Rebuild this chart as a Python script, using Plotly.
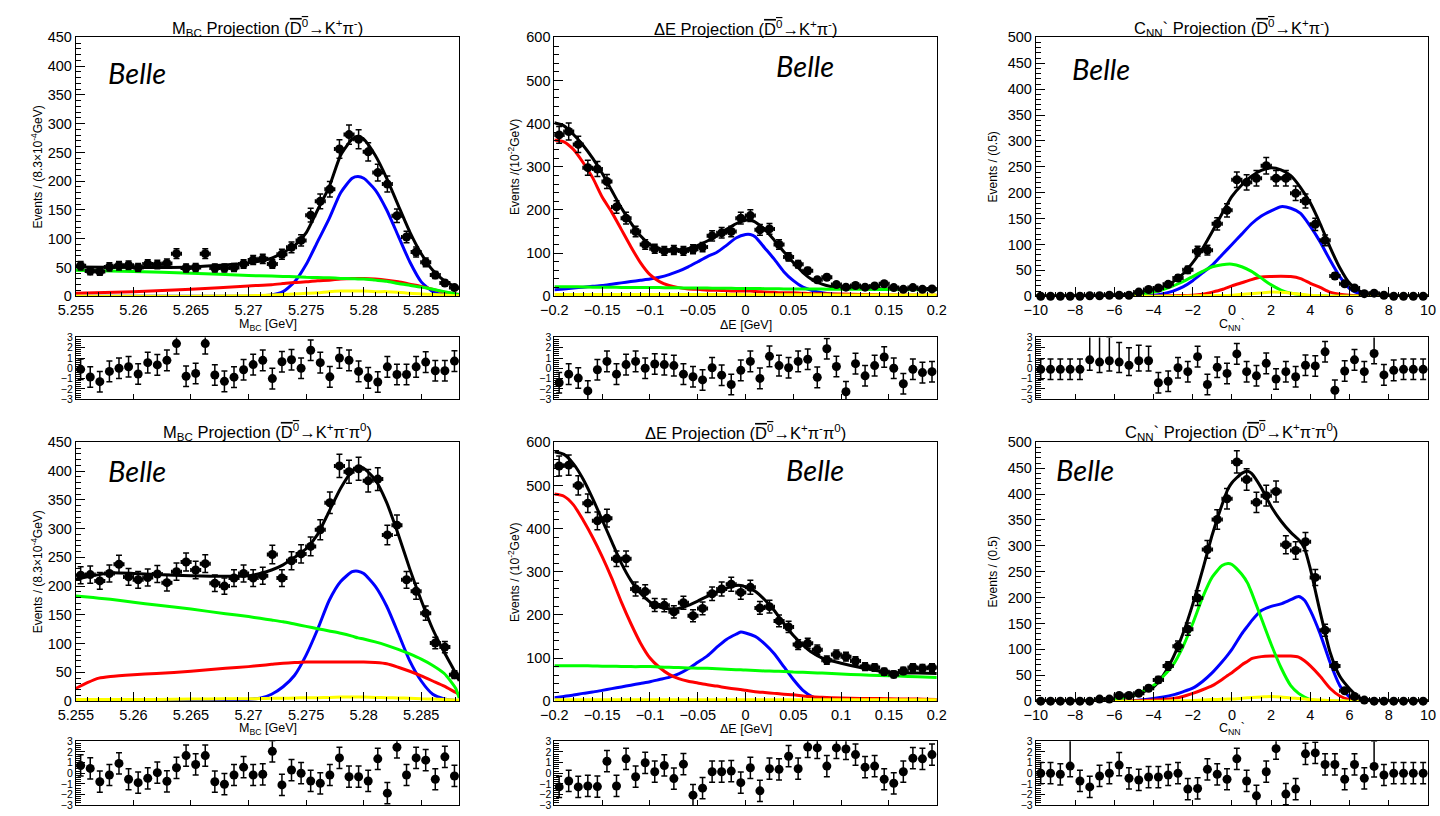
import numpy as np
import plotly.graph_objects as go

# ---------------- data ----------------
n_bins = 40
mbc_range = [5.255, 5.2883]
de_range = [-0.2, 0.2]
cnn_range = [-10, 10]

# --- D0 -> K+ pi-  : Mbc projection ---
mbc_kpi_counts = [53, 44, 43, 51, 53, 54, 50, 56, 55, 57, 74, 49, 50, 74, 49, 49, 50, 56, 63, 65,
                  56, 73, 85, 97, 141, 165, 186, 256, 281, 273, 251, 215, 195, 140, 103, 77, 59, 37, 23, 15]
mbc_kpi_pulls = [-0.1, -0.85, -1.3, -0.3, 0, 0.15, -0.55, 0.55, 0.33, 0.77, 2.4, -0.77, -0.5, 2.4, -0.65,
                 -1.27, -0.86, -0.14, 0.36, 0.77, -1.0, 0.64, 0.83, 0, 1.75, 0.55, -0.83, 1.0, 0.77, -0.3,
                 -0.93, -1.33, 0.14, -0.6, -0.6, 0.14, 0.6, -0.24, -0.24, 0.7]
mbc_kpi_x = [5.255, 5.26, 5.265, 5.27, 5.272, 5.273, 5.274, 5.275, 5.276, 5.277, 5.278, 5.279, 5.2795,
             5.28, 5.281, 5.282, 5.283, 5.284, 5.285, 5.286, 5.287, 5.288, 5.2883]
mbc_kpi_total = [51, 50, 51, 58, 66, 76, 88, 110, 150, 190, 245, 273, 278, 273, 245, 205, 158, 112, 74, 45, 27, 16, 13]
mbc_kpi_sig = [0, 0, 0, 0, 2, 8, 25, 55, 95, 135, 180, 205, 208, 205, 185, 150, 105, 60, 25, 8, 2, 0, 0]
mbc_kpi_red = [5, 8, 12, 18, 20, 22, 24, 25, 27, 28, 30, 31, 31, 31, 30, 28, 25, 21, 17, 12, 7, 4, 3]
mbc_kpi_green = [45, 43, 40, 36, 35, 34.5, 34, 33, 32.5, 32, 31, 30.5, 30, 30, 28, 26, 22, 19, 16, 12, 8, 4, 3]
mbc_kpi_yellow = [0, 0, 0, 1, 2, 3, 4, 5, 6, 8, 9, 9, 9, 9, 8, 8, 7, 5, 4, 3, 2, 1, 1]

# --- D0 -> K+ pi- : Delta E projection ---
de_kpi_counts = [374, 382, 352, 298, 295, 266, 207, 181, 150, 120, 110, 105, 107, 105, 109, 114, 140, 147, 150, 181,
                 187, 154, 156, 120, 91, 74, 59, 38, 44, 27, 21, 25, 21, 24, 29, 20, 16, 20, 16, 17]
de_kpi_pulls = [-1.4, -0.57, -0.95, -2.2, -0.14, 0.67, -0.57, 0.36, 0.67, 0, 0.42, 0.36, 0.26, -0.57, -0.82,
                -1.13, 0.05, -0.67, -1.57, -0.2, 0.67, -0.98, 1.16, 0.26, 0.05, 0.67, 0.88, -0.88, 1.9, 0.17,
                -2.28, 0.45, -0.73, 0.26, 1.1, 0, -1.5, -0.1, -0.42, -0.33]
de_kpi_x = [-0.2, -0.19, -0.18, -0.17, -0.16, -0.15, -0.14, -0.13, -0.12, -0.11, -0.1, -0.09, -0.08, -0.07,
            -0.06, -0.05, -0.04, -0.03, -0.02, -0.01, 0, 0.005, 0.01, 0.02, 0.03, 0.04, 0.05, 0.06, 0.07,
            0.08, 0.09, 0.1, 0.12, 0.15, 0.2]
de_kpi_total = [402, 395, 375, 350, 320, 285, 245, 205, 170, 140, 120, 110, 107, 107, 110, 118, 128, 140, 155, 168,
                176, 178, 172, 155, 130, 103, 78, 55, 38, 28, 22, 19, 18, 17, 16]
de_kpi_sig = [15, 17, 19, 21, 23, 25, 28, 31, 34, 37, 40, 44, 50, 58, 68, 80, 92, 102, 118, 135,
              143, 143, 138, 112, 86, 57, 36, 21, 13, 8, 5, 4, 2, 1, 0]
de_kpi_red = [362, 358, 340, 310, 275, 230, 195, 155, 115, 78, 50, 34, 25, 20, 17, 16, 14, 14, 13, 12,
              12, 12, 11, 10, 9, 8, 8, 7, 6, 6, 5, 5, 4, 3, 2]
de_kpi_green = [22, 22, 22, 21.5, 21, 21, 21, 20.5, 20, 20, 20, 20, 19.5, 19.5, 19, 19, 19, 18.5, 18.5, 18,
                18, 18, 18, 17.5, 17.5, 17, 17, 17, 16.5, 16.5, 16, 16, 16, 15.5, 15]
de_kpi_yellow = [4] * 20 + [3.5] * 10 + [3] * 5

# --- D0 -> K+ pi- : C_NN' projection ---
cnn_kpi_counts = [0, 0, 0, 0, 0, 1, 1, 2, 2, 2, 8, 13, 16, 23, 35, 51, 87, 89, 140, 166,
                  225, 220, 228, 252, 228, 228, 199, 184, 139, 108, 39, 24, 16, 5, 6, 2, 0, 0, 0, 0]
cnn_kpi_pulls = [-0.1, -0.1, -0.1, -0.1, -0.1, 0.82, 0.6, 0.73, 0.6, 0.3, 0.73, 0.73, -1.4, -1.26, 0.05,
                 -0.33, 1.13, -1.57, 0.1, -0.5, 1.4, -0.33, -0.73, 0.48, -1.04, -0.33, -0.82, 0.3, 0.23, 1.6,
                 -2.13, -0.26, 0.82, -0.33, 1.44, -0.64, -0.2, -0.1, -0.1, -0.1]
cnn_kpi_pull_up = [1, 1, 1, 1, 1, 2.5, 2.6, 2.3, 1.9, 1.7, 1.5, 1.4, 1, 1, 1, 1, 1, 1, 1, 1,
                   1, 1, 1, 1, 1, 1, 1, 1, 1, 1, 1, 1, 1, 1, 2.0, 1, 1, 1, 1, 1]
cnn_kpi_x = [-10, -8, -6, -5, -4, -3.5, -3, -2.5, -2, -1.5, -1, -0.5, 0, 0.5, 1, 1.5, 2, 2.5, 3, 3.5,
             4, 4.5, 5, 5.5, 6, 6.5, 7, 8, 10]
cnn_kpi_total = [0, 0, 2, 4, 12, 18, 28, 43, 65, 92, 125, 160, 193, 215, 232, 243, 248, 244, 233, 210,
                 180, 140, 95, 55, 25, 10, 3, 0.5, 0]
cnn_kpi_sig = [0, 0, 0, 0.5, 2, 5, 10, 18, 30, 45, 60, 80, 100, 120, 140, 155, 165, 173, 170, 160,
               135, 105, 70, 38, 15, 5, 1, 0, 0]
cnn_kpi_red = [0, 0, 0, 0, 0, 0.5, 1, 1.5, 2, 4, 8, 13, 20, 26, 32, 37, 38, 38.5, 38, 34,
               25, 17, 8, 4, 2, 1, 0, 0, 0]
cnn_kpi_green = [0, 0, 0.5, 2, 8, 13, 20, 28, 38, 48, 57, 61, 62, 57, 48, 35, 22, 12, 6, 3,
                 1, 0.5, 0, 0, 0, 0, 0, 0, 0]
cnn_kpi_yellow = [0, 0, 0, 0, 0, 0, 0, 0, 0.5, 1, 1, 1.5, 2, 3.5, 5, 6.5, 8, 7.5, 6, 4,
                  2, 1, 0, 0, 0, 0, 0, 0, 0]

# --- D0 -> K+ pi- pi0 : Mbc projection ---
mbc_kpp_counts = [219, 220, 209, 222, 238, 216, 211, 215, 221, 206, 225, 242, 228, 239, 205, 200, 214, 222, 214, 218,
                  255, 214, 244, 256, 269, 298, 345, 409, 399, 404, 383, 386, 289, 306, 211, 191, 153, 101, 94, 46]
mbc_kpp_pulls = [0.73, 0.45, -0.8, -0.17, 0.92, -0.57, -0.89, -0.48, 0.05, -0.76, 0.51, 1.66, 0.82, 1.66, -0.8,
                 -1.04, -0.17, 0.57, -0.17, -0.1, 2.06, -1.1, 0.3, 0, -0.73, -0.95, -0.17, 1.44, -0.33, -0.33,
                 -0.73, 1.35, -1.88, 2.44, -0.17, 1.44, 1.23, -0.57, 1.54, -0.26]
mbc_kpp_x = [5.255, 5.256, 5.257, 5.258, 5.26, 5.262, 5.265, 5.268, 5.27, 5.271, 5.272, 5.273, 5.274, 5.275,
             5.276, 5.277, 5.278, 5.279, 5.2795, 5.28, 5.281, 5.282, 5.283, 5.284, 5.285, 5.286, 5.287, 5.288, 5.2883]
mbc_kpp_total = [212, 216, 220, 223, 222, 220, 218, 217, 218, 222, 228, 237, 250, 265, 290, 330, 370, 400, 408, 405,
                 385, 345, 290, 230, 175, 125, 85, 48, 35]
mbc_kpp_sig = [0, 0, 0, 0, 0, 0, 0, 1, 3, 5, 12, 25, 45, 80, 125, 175, 208, 225, 226, 222,
               200, 165, 118, 70, 35, 12, 4, 1, 0]
mbc_kpp_red = [22, 32, 40, 43, 46, 48, 52, 57, 60, 62, 64, 66, 67, 68, 68, 68, 68, 68, 68, 68,
               67, 65, 59, 52, 44, 35, 26, 15, 12]
mbc_kpp_green = [183, 181, 179, 177, 172, 167, 160, 152, 147, 144, 141, 138, 134, 130, 126, 122, 118, 113, 110, 108,
                 103, 97, 90, 82, 73, 62, 48, 22, 5]
mbc_kpp_yellow = [3, 3, 3, 3, 3, 3, 3.5, 4, 4, 4.5, 5, 5, 5.5, 6, 6, 6.5, 7, 7, 7, 7,
                  6.5, 6, 5.5, 5, 4, 3.5, 3, 2, 2]

# --- D0 -> K+ pi- pi0 : Delta E projection ---
de_kpp_counts = [545, 547, 500, 459, 418, 424, 330, 330, 260, 254, 223, 222, 207, 228, 198, 215, 249, 260, 271, 252,
                 264, 216, 219, 186, 172, 131, 134, 119, 95, 108, 103, 93, 80, 78, 68, 62, 70, 78, 76, 78]
de_kpp_pulls = [-1.29, -0.73, -1.29, -1.2, -1.26, 1.13, -1.2, 1.35, -0.33, 0.98, 0.14, 0.73, -0.51, 0.85, -2.07,
                -1.41, 0.14, 0.14, 0.2, -0.89, 0.51, -1.66, 0.42, 0.36, 1.6, 0.42, 2.47, 2.38, 0.67, 2.38,
                2.28, 1.75, 0.57, 0.67, -0.57, -0.95, 0.14, 1.41, 1.35, 1.75]
de_kpp_x = [-0.2, -0.19, -0.18, -0.17, -0.16, -0.15, -0.14, -0.13, -0.12, -0.11, -0.1, -0.09, -0.08, -0.07,
            -0.06, -0.05, -0.04, -0.03, -0.02, -0.01, -0.005, 0, 0.01, 0.02, 0.03, 0.04, 0.05, 0.06, 0.07,
            0.08, 0.1, 0.12, 0.14, 0.16, 0.18, 0.2]
de_kpp_total = [578, 572, 550, 515, 470, 420, 370, 320, 280, 250, 230, 218, 214, 215, 222, 232, 243, 253, 262, 268,
                268, 265, 255, 235, 210, 180, 152, 130, 112, 100, 88, 78, 70, 66, 65, 64]
de_kpp_sig = [8, 11, 14, 18, 21, 25, 29, 33, 37, 41, 45, 50, 55, 63, 75, 90, 105, 125, 143, 155,
              160, 158, 150, 133, 110, 80, 50, 25, 10, 3, 0, 0, 0, 0, 0, 0]
de_kpp_red = [480, 475, 455, 420, 380, 335, 285, 230, 180, 135, 100, 78, 62, 52, 46, 42, 38, 35, 31, 28,
              27, 25, 22, 20, 18, 16, 15, 12, 10, 9, 7, 6, 6, 5, 5, 4]
de_kpp_green = [82, 82, 82, 82, 81.5, 81, 81, 80.5, 80, 80, 80, 79, 78.5, 78, 77, 76.5, 76, 75, 74, 73,
                72.5, 72, 71, 70, 69.5, 68.5, 67.5, 67, 66, 65, 63, 61, 59.5, 58, 56.5, 55]
de_kpp_yellow = [3] * 36

# --- D0 -> K+ pi- pi0 : C_NN' projection ---
cnn_kpp_counts = [0, 0, 0, 0, 0, 0, 4, 4, 11, 11, 15, 25, 41, 68, 106, 139, 199, 293, 351, 391,
                  462, 428, 384, 397, 405, 302, 291, 308, 239, 137, 68, 20, 9, 2, 0, 0, 0, 0, 0, 0]
cnn_kpp_pulls = [0, 0, -0.1, 0.67, -0.73, -1.29, -0.26, 0, 0.76, -0.48, -0.64, -0.36, -0.36, -0.17, 0,
                 -1.5, -1.44, 0.36, -0.1, -0.57, 1.35, -0.73, -2.13, 0.14, 2.31, -1.97, -1.5, 1.82, 1.91, 0.82,
                 0.82, -0.57, 0.82, -0.48, 0.64, -0.17, 0, 0, 0, 0]
cnn_kpp_pull_up = [1, 1, 1, 2.5, 1, 1, 1, 1, 1.2, 1, 1, 1, 1, 1, 1, 1, 1, 1, 1, 1,
                   1, 1, 1, 1, 1, 1, 1, 1, 1, 1, 1, 1, 1, 1, 2.4, 1, 1, 1, 1, 1]
cnn_kpp_x = [-10, -8, -7, -6, -5, -4, -3.5, -3, -2.5, -2, -1.5, -1, -0.5, -0.2, 0, 0.5, 0.8, 1, 1.5, 2,
             2.5, 3, 3.4, 3.7, 4, 4.5, 5, 5.5, 6, 6.5, 7, 8, 10]
cnn_kpp_total = [0, 0, 1, 4, 11, 27, 50, 84, 130, 187, 253, 322, 380, 410, 422, 440, 444, 440, 412, 376,
                 348, 326, 312, 295, 255, 172, 95, 48, 24, 7, 2, 0, 0]
cnn_kpp_sig = [0, 0, 0, 0, 1, 5, 8, 12, 18, 25, 38, 55, 76, 90, 100, 130, 145, 155, 175, 183,
               188, 196, 202, 195, 175, 130, 75, 30, 8, 2, 0, 0, 0]
cnn_kpp_red = [0, 0, 0, 0, 0.5, 2, 3, 5, 9, 15, 22, 30, 42, 50, 55, 70, 77, 82, 86, 87,
               87, 87, 85, 78, 68, 48, 25, 10, 3, 0.5, 0, 0, 0]
cnn_kpp_green = [0, 0, 1, 3, 12, 30, 48, 70, 105, 150, 200, 240, 262, 266, 264, 245, 228, 210, 160, 110,
                 65, 30, 15, 8, 3, 1, 0, 0, 0, 0, 0, 0, 0]
cnn_kpp_yellow = [0, 0, 0, 0, 0, 0, 0, 0.5, 0.5, 1, 2, 3, 3.5, 4, 4, 5.5, 6.5, 7, 8, 9,
                  8, 6, 5, 4, 3, 2, 1, 0.5, 0, 0, 0, 0, 0]

# tick labels / titles
OL = '<span style="text-decoration:overline">D<sup>0</sup></span>'
titles = [
    "M<sub>BC</sub> Projection (" + OL + "→K<sup>+</sup>π<sup>-</sup>)",
    "ΔE Projection (" + OL + "→K<sup>+</sup>π<sup>-</sup>)",
    "C<sub>NN</sub>` Projection (" + OL + "→K<sup>+</sup>π<sup>-</sup>)",
    "M<sub>BC</sub> Projection (" + OL + "→K<sup>+</sup>π<sup>-</sup>π<sup>0</sup>)",
    "ΔE Projection (" + OL + "→K<sup>+</sup>π<sup>-</sup>π<sup>0</sup>)",
    "C<sub>NN</sub>` Projection (" + OL + "→K<sup>+</sup>π<sup>-</sup>π<sup>0</sup>)",
]
xtitles = ["M<sub>BC</sub> [GeV]", "ΔE [GeV]", "C<sub>NN</sub>`"] * 2
ytitles = ["Events / (8.3×10<sup>-4</sup>GeV)", "Events /(10<sup>-2</sup>GeV)", "Events / (0.5)",
           "Events / (8.3×10<sup>-4</sup>GeV)", "Events / (10<sup>-2</sup>GeV)", "Events / (0.5)"]
belle_label = "Belle"

# ---------------- layout geometry (pixels) ----------------
W, H = 1440, 816
col_px = [(59, 450), (547, 937), (1038, 1438)]
main_px = [(30, 294), (443, 707)]
pull_px = [(336, 399), (748, 813)]
ytitle_px = [19, 506, 994]
xtitle_py = [323, 735]
title_py = [20, 432]
belle_pos = [(121, 66), (803, 59), (1104, 62), (121, 472), (813, 471), (1088, 471)]


def px_x(v):
    return v / W


def px_y(v):
    return 1 - v / H


panels = [
    dict(rng=mbc_range, counts=mbc_kpi_counts, pulls=mbc_kpi_pulls, cx=mbc_kpi_x,
         curves=[mbc_kpi_total, mbc_kpi_sig, mbc_kpi_red, mbc_kpi_green, mbc_kpi_yellow],
         ymax=450, ydt=50, ymin=10, xdt=0.005, xmin=0.001, x0=5.255, up=None),
    dict(rng=de_range, counts=de_kpi_counts, pulls=de_kpi_pulls, cx=de_kpi_x,
         curves=[de_kpi_total, de_kpi_sig, de_kpi_red, de_kpi_green, de_kpi_yellow],
         ymax=600, ydt=100, ymin=20, xdt=0.05, xmin=0.01, x0=-0.2, up=None),
    dict(rng=cnn_range, counts=cnn_kpi_counts, pulls=cnn_kpi_pulls, cx=cnn_kpi_x,
         curves=[cnn_kpi_total, cnn_kpi_sig, cnn_kpi_red, cnn_kpi_green, cnn_kpi_yellow],
         ymax=500, ydt=50, ymin=10, xdt=2, xmin=0.5, x0=-10, up=cnn_kpi_pull_up),
    dict(rng=mbc_range, counts=mbc_kpp_counts, pulls=mbc_kpp_pulls, cx=mbc_kpp_x,
         curves=[mbc_kpp_total, mbc_kpp_sig, mbc_kpp_red, mbc_kpp_green, mbc_kpp_yellow],
         ymax=450, ydt=50, ymin=10, xdt=0.005, xmin=0.001, x0=5.255, up=None),
    dict(rng=de_range, counts=de_kpp_counts, pulls=de_kpp_pulls, cx=de_kpp_x,
         curves=[de_kpp_total, de_kpp_sig, de_kpp_red, de_kpp_green, de_kpp_yellow],
         ymax=600, ydt=100, ymin=20, xdt=0.05, xmin=0.01, x0=-0.2, up=None),
    dict(rng=cnn_range, counts=cnn_kpp_counts, pulls=cnn_kpp_pulls, cx=cnn_kpp_x,
         curves=[cnn_kpp_total, cnn_kpp_sig, cnn_kpp_red, cnn_kpp_green, cnn_kpp_yellow],
         ymax=500, ydt=50, ymin=10, xdt=2, xmin=0.5, x0=-10, up=cnn_kpp_pull_up),
]
curve_colors = ["#000000", "#0000ff", "#ff0000", "#00ff00", "#ffff00"]

FONT = "Liberation Sans, Arial, Helvetica, sans-serif"
fig = go.Figure()
layout = dict(width=W, height=H, margin=dict(l=0, r=0, t=0, b=0), paper_bgcolor="white",
              plot_bgcolor="white", showlegend=False, font=dict(family=FONT, color="black"))
annotations = []

for i, p in enumerate(panels):
    row, col = divmod(i, 3)
    nm, npl = 2 * i + 1, 2 * i + 2
    xa_m, ya_m = f"x{nm}", f"y{nm}"
    xa_p, ya_p = f"x{npl}", f"y{npl}"
    xdom = [px_x(col_px[col][0]), px_x(col_px[col][1])]
    ydom_m = [px_y(main_px[row][1]), px_y(main_px[row][0])]
    ydom_p = [px_y(pull_px[row][1]), px_y(pull_px[row][0])]
    lo, hi = p["rng"]
    edges = np.linspace(lo, hi, n_bins + 1)
    centers = 0.5 * (edges[:-1] + edges[1:])
    half = 0.5 * (hi - lo) / n_bins

    common_x = dict(showline=True, mirror=True, linecolor="black", linewidth=1, showgrid=False,
                    zeroline=False, ticks="inside", tickcolor="black", range=[lo, hi],
                    tick0=p["x0"], dtick=p["xdt"],
                    minor=dict(ticks="inside", ticklen=4, tickcolor="black", tick0=p["x0"], dtick=p["xmin"]))
    layout["xaxis" + str(nm)] = dict(common_x, domain=xdom, anchor=ya_m, ticklen=9,
                                     tickfont=dict(family=FONT, size=14.5, color="black"))
    layout["yaxis" + str(nm)] = dict(domain=ydom_m, anchor=xa_m, range=[0, p["ymax"]], dtick=p["ydt"], tick0=0,
                                     showline=True, mirror=True, linecolor="black", linewidth=1, showgrid=False,
                                     zeroline=False, ticks="inside", ticklen=9, tickcolor="black",
                                     minor=dict(ticks="inside", ticklen=5, tickcolor="black", dtick=p["ymin"], tick0=0),
                                     tickfont=dict(family=FONT, size=14.5, color="black"))
    layout["xaxis" + str(npl)] = dict(common_x, domain=xdom, anchor=ya_p, ticklen=5, showticklabels=False,
                                      minor=dict(ticks=""))
    layout["yaxis" + str(npl)] = dict(domain=ydom_p, anchor=xa_p, range=[-3, 3], dtick=1, tick0=-3,
                                      showline=True, mirror=True, linecolor="black", linewidth=1, showgrid=False,
                                      zeroline=False, ticks="inside", ticklen=9, tickcolor="black",
                                      minor=dict(ticks="inside", ticklen=5, tickcolor="black", dtick=0.2, tick0=-3),
                                      tickfont=dict(family=FONT, size=10.5, color="black"))

    # fit curves
    for cy, colr in zip(p["curves"], curve_colors):
        fig.add_trace(go.Scatter(x=p["cx"], y=cy, mode="lines", xaxis=xa_m, yaxis=ya_m,
                                 line=dict(color=colr, width=3, shape="spline", smoothing=0.6),
                                 hoverinfo="skip"))
    # data points
    fig.add_trace(go.Scatter(x=centers, y=p["counts"], mode="markers", xaxis=xa_m, yaxis=ya_m,
                             marker=dict(color="black", size=9), cliponaxis=False,
                             error_y=dict(type="sqrt", color="black", thickness=1.5, width=3),
                             error_x=dict(type="constant", value=half, color="black", thickness=1.5, width=2)))
    # pulls
    if p["up"] is None:
        ey = dict(type="constant", value=1, color="black", thickness=1.5, width=3)
    else:
        ey = dict(type="data", array=p["up"], arrayminus=[1] * n_bins, symmetric=False,
                  color="black", thickness=1.5, width=3)
    fig.add_trace(go.Scatter(x=centers, y=p["pulls"], mode="markers", xaxis=xa_p, yaxis=ya_p,
                             marker=dict(color="black", size=9), error_y=ey))

    cx_px = 0.5 * (col_px[col][0] + col_px[col][1])
    annotations.append(dict(text=titles[i], x=px_x(cx_px), y=px_y(title_py[row]), xref="paper",
                            yref="paper", showarrow=False, xanchor="center", yanchor="middle",
                            font=dict(family=FONT, size=16.5, color="black")))
    annotations.append(dict(text=xtitles[i], x=px_x(cx_px), y=px_y(xtitle_py[row]), xref="paper",
                            yref="paper", showarrow=False, xanchor="center", yanchor="middle",
                            font=dict(family=FONT, size=12.5, color="black")))
    cy_px = 0.5 * (main_px[row][0] + main_px[row][1])
    annotations.append(dict(text=ytitles[i], x=px_x(ytitle_px[col]), y=px_y(cy_px), xref="paper",
                            yref="paper", showarrow=False, xanchor="center", yanchor="middle", textangle=-90,
                            font=dict(family=FONT, size=12, color="black")))
    bx, by = belle_pos[i]
    annotations.append(dict(text="<i>" + belle_label + "</i>", x=px_x(bx), y=px_y(by), xref="paper",
                            yref="paper", showarrow=False, xanchor="center", yanchor="middle",
                            font=dict(family="Lato, Open Sans, sans-serif", size=29, color="black")))

layout["annotations"] = annotations
fig.update_layout(**layout)
fig.write_html("out.html")
